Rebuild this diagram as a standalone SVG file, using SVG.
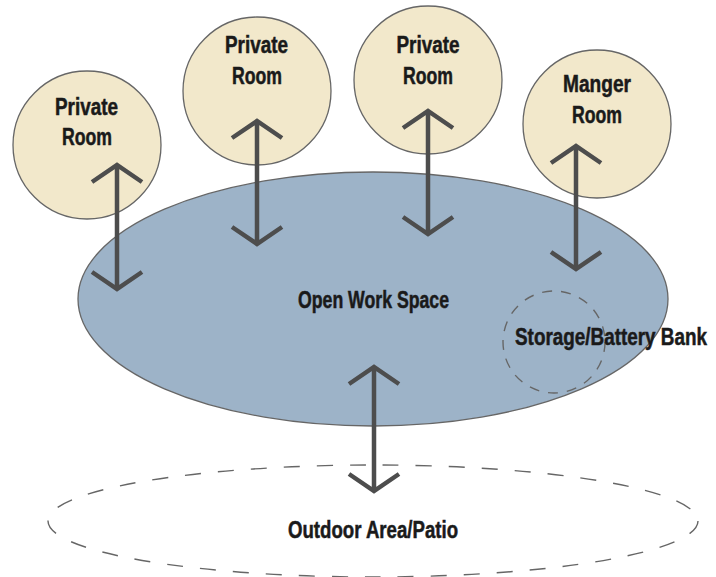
<svg xmlns="http://www.w3.org/2000/svg" width="716" height="577" viewBox="0 0 716 577">
<style>
.room{fill:#f2e8cb;stroke:#666;stroke-width:1.3}
.work{fill:#9db3c8;stroke:#666;stroke-width:1.3}
.dash{fill:none;stroke:#666;stroke-width:1.4}
.lbl{font-family:"Liberation Sans Narrow","Liberation Sans",Arial,sans-serif;font-weight:bold;font-size:23px;fill:#1a1a1a;stroke:#1a1a1a;stroke-width:0.5;text-anchor:middle}
.arr{fill:none;stroke:#4d4d4d;stroke-width:4.5;stroke-linejoin:miter;stroke-miterlimit:10}
</style>
<g id="open-work-space">
<ellipse class="work" cx="373" cy="299" rx="295" ry="127"/>
<text class="lbl" x="373.5" y="308" textLength="151" lengthAdjust="spacingAndGlyphs">Open Work Space</text>
</g>
<g id="outdoor-area">
<ellipse class="dash" cx="373" cy="521" rx="325" ry="56" stroke-dasharray="16 17"/>
<text class="lbl" x="373" y="538" textLength="170" lengthAdjust="spacingAndGlyphs">Outdoor Area/Patio</text>
</g>
<g id="storage">
<circle class="dash" cx="554" cy="342" r="51" stroke-dasharray="10 9"/>
<text class="lbl" x="611" y="345" textLength="192" lengthAdjust="spacingAndGlyphs">Storage/Battery Bank</text>
</g>
<g id="private-room-1">
<circle class="room" cx="87" cy="145" r="74"/>
<text class="lbl" x="86.5" y="115" textLength="63" lengthAdjust="spacingAndGlyphs">Private</text>
<text class="lbl" x="87" y="145" textLength="50" lengthAdjust="spacingAndGlyphs">Room</text>
</g>
<g id="private-room-2">
<circle class="room" cx="257" cy="91" r="74"/>
<text class="lbl" x="256.5" y="53" textLength="63" lengthAdjust="spacingAndGlyphs">Private</text>
<text class="lbl" x="257" y="84" textLength="50" lengthAdjust="spacingAndGlyphs">Room</text>
</g>
<g id="private-room-3">
<circle class="room" cx="428" cy="80" r="74"/>
<text class="lbl" x="428" y="53" textLength="63" lengthAdjust="spacingAndGlyphs">Private</text>
<text class="lbl" x="428" y="84" textLength="50" lengthAdjust="spacingAndGlyphs">Room</text>
</g>
<g id="manager-room">
<circle class="room" cx="597" cy="124" r="74"/>
<text class="lbl" x="597" y="92" textLength="68" lengthAdjust="spacingAndGlyphs">Manger</text>
<text class="lbl" x="597" y="123" textLength="50" lengthAdjust="spacingAndGlyphs">Room</text>
</g>
<g id="connectors" class="arr">
<path d="M117 166 V288 M92 182 L117 165 L142 182 M92 272 L117 289 L142 272"/>
<path d="M257 122 V242 M232 138 L257 121 L282 138 M232 227 L257 244 L282 227"/>
<path d="M428 112 V232 M403 128 L428 111 L453 128 M403 217 L428 234 L453 217"/>
<path d="M576 147 V268 M551 163 L576 146 L601 163 M551 252 L576 269 L601 252"/>
<path d="M374 368 V490 M349 384 L374 367 L399 384 M349 474 L374 491 L399 474"/>
</g>
</svg>
